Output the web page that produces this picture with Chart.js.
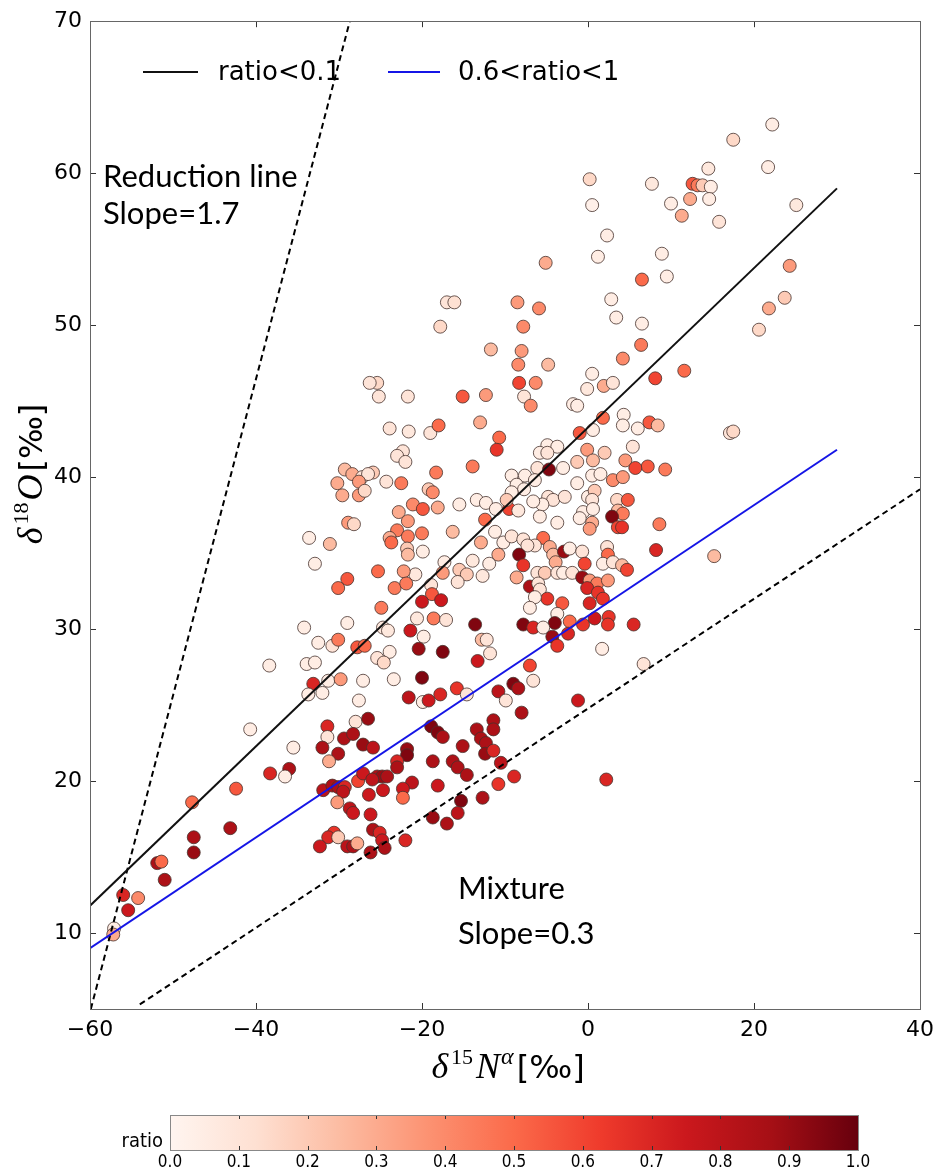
<!DOCTYPE html>
<html>
<head>
<meta charset="utf-8">
<script src="https://cdn.jsdelivr.net/npm/chart.js@4.4.0/dist/chart.umd.min.js"></script>
<style>
  body { margin: 0; background: #fff; }
  #wrap { position: relative; width: 942px; height: 1173px; }
  #main { position: absolute; left: 0; top: 0; }
  #cbar { position: absolute; left: 0; top: 1093px; }
</style>
</head>
<body>
<div id="wrap">
  <canvas id="main" width="942" height="1093"></canvas>
  <canvas id="cbar" width="942" height="80"></canvas>
</div>
<script>
// axis ticks
const xTicks = [-60, -40, -20, 0, 20, 40];
const yTicks = [10, 20, 30, 40, 50, 60, 70];
const cbarTicks = [0, 0.1, 0.2, 0.3, 0.4, 0.5, 0.6, 0.7, 0.8, 0.9, 1.0];

// fitted / reference lines (end points)
const fitLowX = [-60, 30],     fitLowY = [11.8, 59];     // ratio<0.1
const fitHighX = [-60, 30],    fitHighY = [9, 41.8];     // 0.6<ratio<1
const reductionX = [-59.9, -28.7], reductionY = [5, 70]; // slope label 1.7
const mixtureX = [-54, 40],    mixtureY = [5.3, 39.2];   // slope label 0.3

// samples, grouped by area of the plot (x = d15N alpha, y = d18O, r = ratio)
const xTop = [0.2,0.5,2.3,1.2,-5.1,6.5,-17.0,-16.1,-8.5,-5.9,-17.8,-7.8,2.8,3.4,6.5,6.4,4.2,-11.7,-8.0,-8.4,-4.8,-8.3,-6.3,0.5,-0.1,1.9,3.0,-25.4,-26.3,-25.2,-21.7,-15.1,-12.3,-7.7];
const yTop = [59.6,57.9,55.9,54.5,54.1,53.0,51.5,51.5,51.5,51.1,49.9,49.9,51.7,50.5,50.1,48.7,47.8,48.4,48.3,47.4,47.4,46.2,46.2,46.8,45.8,46.0,46.2,46.2,46.2,45.3,45.3,45.3,45.4,45.3];
const rTop = [.15,.03,.05,.05,.3,.5,.1,.12,.35,.4,.15,.4,.05,.05,.05,.45,.4,.25,.35,.4,.25,.6,.4,.05,.08,.3,.1,.15,.1,.1,.1,.55,.35,.1];

const xTopRight = [22.2,17.5,14.5,21.7,7.7,12.6,13.2,13.8,14.8,10.0,12.3,14.6,11.3,15.8,25.1,8.9,9.5,24.3,23.7,21.8,20.6,11.6,8.1];
const yTopRight = [63.2,62.2,60.3,60.4,59.3,59.3,59.2,59.2,59.1,58.0,58.3,58.3,57.2,56.8,57.9,54.7,53.2,53.9,51.8,51.1,49.7,47.0,46.5];
const rTopRight = [.05,.15,.08,.05,.08,.55,.45,.2,.05,.05,.3,.05,.3,.1,.08,.05,.05,.35,.2,.3,.15,.5,.6];

const xRight = [7.4,8.4,17.1,17.5,7.2,9.3,8.6,8.2,15.2];
const yRight = [43.6,43.4,42.9,43.0,40.7,40.5,36.9,35.2,34.8];
const rRight = [.55,.25,.1,.15,.55,.45,.45,.7,.25];

const xMidLeft = [-6.9,-1.8,-1.3,-23.9,-21.6,-19.0,-18.0,-13.0,-10.7,-11.0,
  -22.3,-23.0,-22.0,-25.9,-24.3,-22.5,-18.3,-13.9,-19.2,-18.7,
  -21.1,-19.9,-18.1,-22.8,-21.7,-23.0,-23.9,-23.7,-21.7,-20.0,
  -21.8,-21.7,-19.9,-16.3,-15.5,-13.4,-12.3,-11.1,-12.4,-9.5,
  -11.2,-12.9,-10.2,-10.8,-11.9,-13.9,-17.3,-15.5,-14.6,-17.5,
  -15.7,-12.7,-20.8,-22.2,-25.3,-23.3,-21.9,-18.9,-18.8,-17.7,
  -20.0,-24.9,-18.6,-17.1,-20.6,-21.4,-24.7,-24.1,-13.6,-19.8,
  -12.8,-12.2,-20.4,-17.5,-23.9];
const yMidLeft = [44.7,44.8,44.7,43.2,43.0,42.9,43.4,43.6,42.6,41.8,
  41.7,41.4,41.0,40.3,39.7,39.6,40.3,40.7,39.2,39.0,
  38.2,37.9,38.0,37.7,37.1,36.5,36.0,35.7,36.1,36.3,
  35.3,34.9,35.1,36.4,38.2,38.5,38.3,37.9,37.2,37.9,
  36.4,35.7,35.7,34.9,34.3,34.5,34.4,33.9,33.6,33.7,
  33.1,33.5,33.6,33.8,33.8,32.7,33.0,32.9,32.3,31.9,
  31.8,31.4,30.7,30.6,30.7,29.9,30.1,29.9,30.3,29.5,
  29.3,29.3,28.7,28.5,28.5];
const rMidLeft = [.4,.05,.05,.1,.08,.1,.5,.3,.5,.65,
  .1,.1,.1,.2,.1,.45,.45,.45,.2,.4,
  .4,.55,.3,.3,.35,.45,.3,.5,.45,.45,
  .2,.25,.05,.25,.05,.05,.05,.05,.5,.6,
  .05,.3,.05,.3,.05,.08,.05,.2,.2,.35,
  .1,.08,.08,.35,.5,.45,.45,.1,.55,.75,
  .75,.45,.45,.1,.08,.75,.08,.08,.95,.05,
  .25,.1,.9,.95,.05];

const xMidRight = [1.8,4.3,4.2,-1.0,0.6,6.0,-4.9,-3.7,-5.8,-4.9,
  -0.1,2.0,5.4,-1.3,0.6,4.5,5.7,-6.1,-4.7,-3.0,
  -9.2,-7.6,-6.4,-1.3,0.5,1.5,3.0,4.2,-8.6,-7.7,
  -9.2,-4.8,-4.2,-5.5,-2.8,-6.6,-9.8,-8.4,0.0,0.8,
  0.5,3.5,4.8,3.6,4.2,-0.6,0.6,-5.8,-3.7,-1.0,
  0.5,0.2,2.9,3.6,4.1,-9.2,-7.8,-5.4,-6.4,-7.3,
  -4.6,-4.2,-3.9,-2.9,-2.2,-0.7,2.3,2.4,-0.4,1.8,
  3.0,4.1,4.7,-8.3,-7.8,-8.6,-6.1,-5.2,-3.7,-3.0,
  -1.9,-7.0,-6.0,-5.8,-0.7,0.2,1.1,-0.1,1.2,2.4,
  -4.9,-3.1,-6.4,0.2,1.8,-7.0,-3.7,-2.2,-4.0,-7.8,
  -6.6,-5.4,-0.6,0.8,2.5,2.4,5.5,-4.3,-2.4,-3.7,
  1.7];
const yMidRight = [43.9,44.1,43.4,42.9,43.1,43.2,42.1,42.0,41.6,41.6,
  41.8,41.6,42.0,41.0,41.1,41.1,40.6,40.6,40.5,40.6,
  40.1,40.1,39.8,39.6,40.1,40.2,39.8,40.0,39.5,39.2,
  39.0,38.7,38.5,38.2,38.7,38.4,38.5,37.8,38.7,39.1,
  38.5,38.5,38.5,37.8,37.6,37.7,37.9,37.4,37.0,37.3,
  37.0,36.6,37.4,36.7,36.7,36.1,35.9,36.0,35.5,35.5,
  35.4,34.9,34.4,35.1,35.3,35.1,35.4,34.9,34.3,34.3,
  34.4,34.2,33.9,34.9,34.2,33.4,33.7,33.7,33.7,33.7,
  33.7,32.8,33.0,32.6,33.4,33.2,33.0,32.7,32.4,33.2,
  32.0,31.7,32.1,31.7,32.0,31.4,31.0,30.5,30.4,30.3,
  30.1,30.1,30.3,30.7,30.8,30.3,30.3,29.5,29.7,28.9,
  28.7];
const rMidRight = [.5,.05,.05,.55,.05,.05,.05,.05,.05,.1,
  .35,.2,.1,.2,.25,.35,.6,.1,.95,.05,
  .05,.05,.05,.05,.05,.05,.4,.35,.05,.05,
  .05,.1,.1,.05,.1,.05,.2,.08,.05,.2,
  .1,.15,.55,.25,.45,.05,.05,.05,.05,.05,
  .3,.35,.95,.6,.65,.1,.1,.5,.1,.1,
  .3,.25,.3,.9,.05,.1,.1,.5,.6,.05,
  .1,.25,.6,.95,.65,.3,.1,.2,.1,.05,
  .1,.85,.1,.1,.9,.35,.45,.7,.65,.35,
  .65,.55,.05,.7,.65,.05,.05,.5,.95,.95,
  .7,.05,.65,.75,.65,.65,.7,.9,.7,.65,
  .05];

const xLeft = [-29.3,-28.4,-27.2,-26.5,-30.2,-27.6,-29.6,-27.6,-26.9,-28.9,-28.2,-33.6,-31.1,-32.9,-29.0,-30.1,-34.2,-29.0,-32.5,-30.8,-30.1,-27.8,-26.9];
const yLeft = [40.5,40.2,40.0,40.2,39.6,39.7,38.8,38.8,39.1,37.0,36.9,36.0,35.6,34.3,33.3,32.7,30.1,30.4,29.1,28.9,29.3,28.8,28.9];
const rLeft = [.25,.3,.1,.1,.3,.35,.3,.35,.15,.35,.15,.05,.25,.05,.55,.5,.05,.05,.05,.1,.45,.55,.5];

const xLowLeft = [-38.4,-33.9,-32.9,-33.1,-31.3,-29.8,-33.7,-32.0,-27.1,-27.6,
  -28.0,-26.5,-40.7,-35.5,-31.4,-31.4,-32.0,-29.4,-28.3,-27.1,
  -30.1,-31.2,-38.3,-36.0,-36.5,-42.4,-47.7,-31.9,-30.8,-30.1,
  -29.3,-29.5,-27.7,-27.1,-30.2,-28.7,-28.3,-26.4,-26.2,-43.1,
  -47.5,-47.5,-30.6,-31.3,-30.1,-32.3,-29.0,-28.3,-27.8,-26.2,
  -51.9,-51.4,-51.0,-56.0,-54.2,-55.4,-57.1,-57.2];
const yLowLeft = [27.6,27.7,27.8,26.4,26.6,26.7,25.7,25.8,26.6,25.3,
  23.9,24.1,23.4,22.2,23.6,22.9,22.2,22.8,23.1,22.4,
  21.8,21.3,20.5,20.8,20.3,19.5,18.6,19.4,19.7,19.6,
  19.6,19.3,20.0,20.5,18.6,18.2,17.9,19.1,17.8,16.9,
  16.3,15.3,16.6,16.3,16.3,15.7,15.7,15.7,15.9,15.3,
  14.6,14.7,13.5,12.5,12.3,11.5,10.3,9.9];
const rLowLeft = [.05,.05,.05,.7,.05,.35,.05,.05,.05,.05,
  .1,.9,.05,.05,.7,.1,.85,.85,.85,.9,
  .85,.3,.7,.85,.05,.55,.5,.8,.85,.85,
  .7,.8,.6,.75,.35,.8,.75,.75,.75,.85,
  .85,.9,.65,.7,.2,.75,.8,.85,.3,.85,
  .85,.5,.85,.7,.4,.75,.05,.3];

const xLow = [-25.4,-24.6,-13.3,-11.8,-23.4,-20.0,-21.6,-19.9,-19.2,-17.8,
  -15.8,-14.6,-10.8,-9.0,-8.4,-9.9,-7.0,-6.6,-8.0,-1.2,
  -18.9,-18.1,-17.5,-13.4,-11.4,-11.4,-12.9,-12.3,-12.4,-11.4,
  -15.1,-21.8,-21.8,-25.9,-23.0,-23.0,-18.7,-16.3,-15.7,-14.6,
  -10.5,-25.4,-24.8,-24.2,-26.0,-21.2,-22.3,-24.7,-22.3,-18.1,
  -12.7,-10.8,-8.9,-15.3,-15.7,-18.7,-17.0,-25.9,-25.1,-24.8,
  -24.5,-22.0,2.2,6.7];
const yLow = [28.1,27.8,27.9,28.4,26.7,26.8,25.5,25.2,25.3,25.7,
  26.1,25.7,25.9,26.4,26.1,25.3,27.6,26.6,24.5,25.3,
  23.6,23.2,22.9,23.4,24.0,23.4,22.8,22.5,21.8,22.0,
  22.3,22.1,21.7,22.2,21.3,20.9,21.3,21.3,20.9,20.4,
  21.2,20.3,20.3,20.3,20.1,19.9,19.5,19.4,18.9,19.7,
  18.9,19.8,20.3,18.7,17.9,17.6,17.2,16.8,16.6,16.1,
  15.6,16.1,20.1,27.7];
const rLow = [.1,.15,.75,.1,.05,.95,.8,.05,.75,.7,
  .65,.1,.8,.95,.85,.1,.6,.1,.85,.75,
  .95,.95,.85,.85,.85,.85,.85,.85,.9,.7,
  .85,.9,.95,.8,.7,.85,.85,.85,.85,.85,
  .8,.85,.9,.85,.8,.8,.75,.75,.5,.75,
  .85,.65,.7,.95,.8,.9,.85,.85,.7,.75,
  .85,.7,.7,.1];

const ptX = [].concat(xTop, xTopRight, xRight, xMidLeft, xMidRight, xLeft, xLowLeft, xLow);
const ptY = [].concat(yTop, yTopRight, yRight, yMidLeft, yMidRight, yLeft, yLowLeft, yLow);
const ptR = [].concat(rTop, rTopRight, rRight, rMidLeft, rMidRight, rLeft, rLowLeft, rLow);
if (ptX.length !== ptY.length || ptX.length !== ptR.length) console.warn('length mismatch', ptX.length, ptY.length, ptR.length);

// matplotlib "Reds"
const redsStops = ['#fff5f0','#fee0d2','#fcbba1','#fc9272','#fb6a4a','#ef3b2c','#cb181d','#a50f15','#67000d'];
function hexRgb(h) { return [1, 3, 5].map(i => parseInt(h.substr(i, 2), 16)); }
function reds(t) {
  t = Math.max(0, Math.min(1, t));
  const p = t * 8, i = Math.min(7, Math.floor(p)), f = p - i;
  const a = hexRgb(redsStops[i]), b = hexRgb(redsStops[i + 1]);
  const c = a.map((v, k) => Math.round(v + (b[k] - v) * f));
  return 'rgb(' + c.join(',') + ')';
}

function pairs(xs, ys) { return xs.map((x, i) => ({ x: x, y: ys[i] })); }
const minus = v => String(v).replace('-', '\u2212');

// frame + inward ticks on all four sides
const framePlugin = {
  id: 'frame',
  afterDraw(chart) {
    const ctx = chart.ctx, a = chart.chartArea;
    const sx = chart.scales.x, sy = chart.scales.y;
    ctx.save();
    ctx.strokeStyle = '#333';
    ctx.lineWidth = 1;
    ctx.beginPath();
    xTicks.forEach(v => {
      const px = Math.round(sx.getPixelForValue(v)) + 0.5;
      ctx.moveTo(px, a.bottom); ctx.lineTo(px, a.bottom - 6);
      ctx.moveTo(px, a.top); ctx.lineTo(px, a.top + 6);
    });
    yTicks.forEach(v => {
      const py = Math.round(sy.getPixelForValue(v)) + 0.5;
      ctx.moveTo(a.left, py); ctx.lineTo(a.left + 6, py);
      ctx.moveTo(a.right, py); ctx.lineTo(a.right - 6, py);
    });
    ctx.stroke();
    ctx.strokeStyle = '#666';
    ctx.strokeRect(Math.round(a.left) + 0.5, Math.round(a.top) + 0.5, Math.round(a.right - a.left), Math.round(a.bottom - a.top));
    ctx.restore();
  }
};

function drawRich(ctx, parts, cx, baseY) {
  let total = 0;
  parts.forEach(p => { ctx.font = p.font; p.w = ctx.measureText(p.t).width; total += p.w + (p.gap || 0); });
  let cur = cx - total / 2;
  parts.forEach(p => {
    cur += p.gap || 0;
    ctx.font = p.font;
    ctx.fillText(p.t, cur, baseY + (p.dy || 0));
    cur += p.w;
  });
}

const mathIt = 'italic 36px "Liberation Serif"';
const mathSup = '22px "Liberation Serif"';
const permil = '32px "DejaVu Sans"';

const textPlugin = {
  id: 'texts',
  afterDraw(chart) {
    const ctx = chart.ctx;
    ctx.save();
    ctx.fillStyle = '#000';
    ctx.textAlign = 'left';
    ctx.textBaseline = 'alphabetic';
    // legend
    ctx.lineWidth = 2;
    ctx.strokeStyle = '#111';
    ctx.beginPath(); ctx.moveTo(143, 72); ctx.lineTo(198, 72); ctx.stroke();
    ctx.strokeStyle = '#1515e6';
    ctx.beginPath(); ctx.moveTo(388, 72); ctx.lineTo(440, 72); ctx.stroke();
    ctx.font = '26px "DejaVu Sans"';
    ctx.textBaseline = 'middle';
    ctx.fillText('ratio<0.1', 218, 73);
    ctx.fillText('0.6<ratio<1', 458, 73);
    // annotations
    ctx.textBaseline = 'alphabetic';
    ctx.font = '31px Lato';
    ctx.fillText('Reduction line', 103, 187);
    ctx.fillText('Slope=1.7', 103, 224);
    ctx.fillText('Mixture', 458, 899);
    ctx.fillText('Slope=0.3', 458, 944);
    // x title
    drawRich(ctx, [
      { t: '\u03b4', font: mathIt },
      { t: '15', font: mathSup, dy: -14, gap: 3 },
      { t: 'N', font: mathIt, gap: 3 },
      { t: '\u03b1', font: 'italic 24px "Liberation Serif"', dy: -14, gap: 1 },
      { t: '[\u2030]', font: permil, gap: 3 }
    ], 508, 1078);
    // y title
    ctx.translate(42, 474);
    ctx.rotate(-Math.PI / 2);
    drawRich(ctx, [
      { t: '\u03b4', font: mathIt },
      { t: '18', font: mathSup, dy: -14, gap: 3 },
      { t: 'O', font: mathIt, gap: 2 },
      { t: '[\u2030]', font: permil, gap: 3 }
    ], 0, 0);
    ctx.restore();
  }
};

const tickFont = { family: '"DejaVu Sans"', size: 22 };

new Chart(document.getElementById('main'), {
  type: 'scatter',
  data: {
    datasets: [
      {
        data: pairs(ptX, ptY),
        backgroundColor: ptR.map(reds),
        borderColor: 'rgba(70,50,45,0.8)',
        borderWidth: 1,
        pointRadius: 6.5,
        pointHoverRadius: 6.5,
        order: 1
      },
      { data: pairs(fitLowX, fitLowY), showLine: true, borderColor: '#111', borderWidth: 2, pointRadius: 0, order: 0 },
      { data: pairs(fitHighX, fitHighY), showLine: true, borderColor: '#1515e6', borderWidth: 2, pointRadius: 0, order: 0 },
      { data: pairs(reductionX, reductionY), showLine: true, borderColor: '#000', borderWidth: 2, borderDash: [6, 4], pointRadius: 0, order: 0 },
      { data: pairs(mixtureX, mixtureY), showLine: true, borderColor: '#000', borderWidth: 2, borderDash: [6, 4], pointRadius: 0, order: 0 }
    ]
  },
  options: {
    responsive: false,
    animation: false,
    events: [],
    layout: { padding: { left: 0, right: 22, top: 20, bottom: 0 } },
    plugins: { legend: { display: false }, tooltip: { enabled: false } },
    scales: {
      x: {
        min: -60, max: 40,
        afterBuildTicks: s => { s.ticks = xTicks.map(v => ({ value: v })); },
        afterFit: s => { s.height = 84; },
        grid: { display: false, drawTicks: false },
        border: { display: false },
        ticks: { font: tickFont, color: '#000', padding: 8, maxRotation: 0, callback: minus }
      },
      y: {
        min: 5, max: 70,
        afterBuildTicks: s => { s.ticks = yTicks.map(v => ({ value: v })); },
        afterFit: s => { s.width = 90; },
        grid: { display: false, drawTicks: false },
        border: { display: false },
        ticks: { font: tickFont, color: '#000', padding: 8, callback: minus }
      }
    }
  },
  plugins: [framePlugin, textPlugin]
});

// colour bar
const cbarPlugin = {
  id: 'cbar',
  beforeDatasetsDraw(chart) {
    const ctx = chart.ctx, a = chart.chartArea, sx = chart.scales.x;
    ctx.save();
    const g = ctx.createLinearGradient(a.left, 0, a.right, 0);
    redsStops.forEach((c, i) => g.addColorStop(i / 8, c));
    ctx.fillStyle = g;
    ctx.fillRect(a.left, a.top, a.right - a.left, a.bottom - a.top);
    ctx.strokeStyle = '#333';
    ctx.lineWidth = 1;
    ctx.beginPath();
    cbarTicks.forEach(v => {
      const px = Math.round(sx.getPixelForValue(v)) + 0.5;
      ctx.moveTo(px, a.bottom); ctx.lineTo(px, a.bottom - 4);
      ctx.moveTo(px, a.top); ctx.lineTo(px, a.top + 4);
    });
    ctx.stroke();
    ctx.strokeStyle = '#888';
    ctx.strokeRect(a.left + 0.5, a.top + 0.5, a.right - a.left, a.bottom - a.top);
    ctx.fillStyle = '#000';
    ctx.font = '20px "DejaVu Sans Condensed", "DejaVu Sans"';
    ctx.textAlign = 'right';
    ctx.textBaseline = 'alphabetic';
    ctx.fillText('ratio', a.left - 7, a.bottom - 3);
    ctx.restore();
  }
};

new Chart(document.getElementById('cbar'), {
  type: 'scatter',
  data: { datasets: [{ data: [] }] },
  options: {
    responsive: false,
    animation: false,
    events: [],
    layout: { padding: { left: 170, right: 84, top: 22, bottom: 0 } },
    plugins: { legend: { display: false }, tooltip: { enabled: false } },
    scales: {
      x: {
        min: 0, max: 1,
        afterBuildTicks: s => { s.ticks = cbarTicks.map(v => ({ value: v })); },
        afterFit: s => { s.height = 23; },
        grid: { display: false, drawTicks: false },
        border: { display: false },
        ticks: { font: { family: '"DejaVu Sans Condensed", "DejaVu Sans"', size: 17 }, color: '#000', padding: 2, maxRotation: 0, callback: v => v.toFixed(1) }
      },
      y: { display: false, min: 0, max: 1 }
    }
  },
  plugins: [cbarPlugin]
});
</script>
</body>
</html>
